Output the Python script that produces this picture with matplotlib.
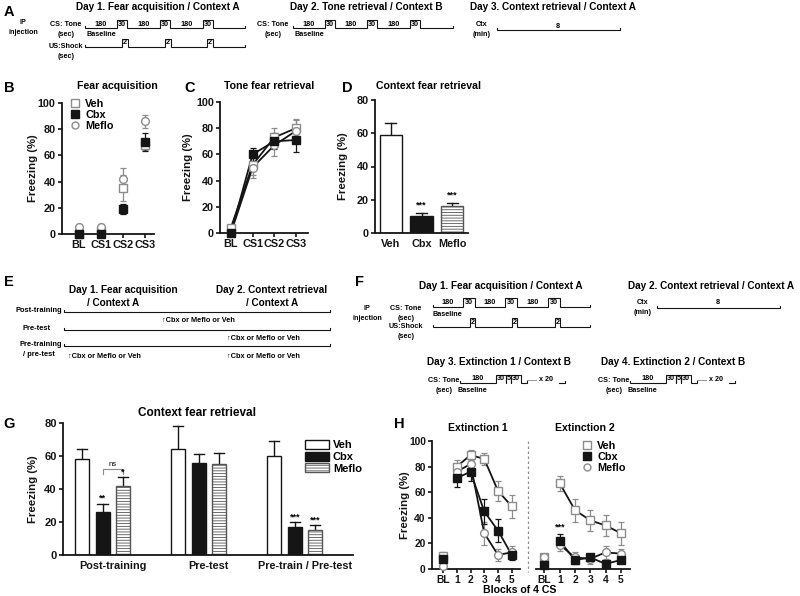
import matplotlib.pyplot as plt
import numpy as np
from matplotlib.lines import Line2D
from matplotlib.patches import Patch

INK = "#151515"
GRAY = "#8c8c8c"
W, H = 800, 596
SMALL = 5.2

# ---- data ----
ACQ_LABELS = ["BL", "CS1", "CS2", "CS3"]
ACQ_VEH = [0, 2, 35, 68]
ACQ_VEH_ERR = [1, 2, 10, 4]
ACQ_CBX = [0, 0, 19, 70]
ACQ_CBX_ERR = [0.5, 0.5, 4, 7]
ACQ_MEF = [5, 5, 42, 86]
ACQ_MEF_ERR = [1, 3, 8, 5]

TONE_LABELS = ["BL", "CS1", "CS2", "CS3"]
TONE_VEH = [4, 52, 73, 80]
TONE_VEH_ERR = [2, 8, 7, 7]
TONE_CBX = [0, 60, 70, 71]
TONE_CBX_ERR = [0.5, 5, 6, 9]
TONE_MEF = [0, 50, 67, 78]
TONE_MEF_ERR = [0.5, 8, 8, 8]

GROUPS = ["Veh", "Cbx", "Meflo"]
CTX_MEAN = [59, 10, 16]
CTX_ERR = [7, 2, 2]
CTX_SIG = ["", "***", "***"]

COND_LABELS = ["Post-training", "Pre-test", "Pre-train / Pre-test"]
COND_VEH = [58, 64, 60]
COND_VEH_ERR = [6, 14, 9]
COND_CBX = [26, 56, 17]
COND_CBX_ERR = [5, 5, 3]
COND_MEF = [42, 55, 15]
COND_MEF_ERR = [5, 7, 3]
COND_CBX_SIG = ["**", "", "***"]
COND_MEF_SIG = ["*", "", "***"]

EXT_LABELS = ["BL", "1", "2", "3", "4", "5"]
EXT1_VEH = [10, 80, 89, 86, 61, 49]
EXT1_VEH_ERR = [3, 5, 4, 5, 8, 9]
EXT1_CBX = [8, 71, 76, 45, 30, 11]
EXT1_CBX_ERR = [2, 7, 7, 10, 9, 4]
EXT1_MEF = [2, 76, 82, 28, 11, 13]
EXT1_MEF_ERR = [1, 6, 8, 9, 5, 5]
EXT2_VEH = [9, 67, 46, 38, 34, 28]
EXT2_VEH_ERR = [3, 6, 9, 8, 8, 9]
EXT2_CBX = [3, 22, 7, 9, 4, 7]
EXT2_CBX_ERR = [1, 5, 3, 3, 2, 2]
EXT2_MEF = [9, 19, 9, 8, 13, 12]
EXT2_MEF_ERR = [2, 5, 4, 4, 5, 4]

STYLE = {
    "Veh": dict(marker="s", mfc="white", mec=GRAY, ecolor=GRAY, ms=6.2),
    "Cbx": dict(marker="s", mfc=INK, mec=INK, ecolor=INK, ms=6.0),
    "Meflo": dict(marker="o", mfc="white", mec=GRAY, ecolor=GRAY, ms=5.6),
}

plt.rcParams.update({
    "font.family": ["Liberation Sans", "DejaVu Sans"],
    "font.weight": "bold",
    "axes.labelweight": "bold",
    "hatch.linewidth": 0.6,
})


def px_axes(fig, left, top, right, bottom):
    return fig.add_axes([left / W, 1 - bottom / H, (right - left) / W, (bottom - top) / H])


def style_axis(ax, size=7.8):
    for side in ("top", "right"):
        ax.spines[side].set_visible(False)
    for side in ("left", "bottom"):
        ax.spines[side].set_linewidth(1.3)
        ax.spines[side].set_color(INK)
    ax.tick_params(direction="out", length=3, width=1.2, labelsize=size, pad=1.5, colors=INK)


def ylabel(ax, fig, text, x_px, size=8.2):
    ax.set_ylabel(text, fontsize=size, color=INK)
    box = ax.get_position()
    ax.yaxis.set_label_coords((x_px / W - box.x0) / box.width, 0.5)


def series(ax, x, y, err, name, line=False, start=0):
    st = STYLE[name]
    ax.errorbar(x, y, yerr=err, fmt="none", ecolor=st["ecolor"], elinewidth=0.9,
                capsize=2, capthick=0.9, clip_on=False, zorder=2)
    if line:
        ax.plot(x[start:], y[start:], color=INK, lw=1.3, zorder=3, clip_on=False)
    ax.plot(x, y, ls="none", marker=st["marker"], ms=st["ms"], mfc=st["mfc"],
            mec=st["mec"], mew=1.0, zorder=4, clip_on=False)


def up_err(ax, x, mean, err, cap=0.18, lw=1.0):
    for xi, m, e in zip(x, mean, err):
        ax.plot([xi, xi], [m, m + e], color=INK, lw=lw, zorder=1)
        ax.plot([xi - cap, xi + cap], [m + e, m + e], color=INK, lw=lw, zorder=1)


def marker_legend(ax, fig, x_px, y_px, size=7.8):
    handles = [Line2D([], [], ls="none", marker=STYLE[g]["marker"], ms=STYLE[g]["ms"] - 0.6,
                      mfc=STYLE[g]["mfc"], mec=STYLE[g]["mec"], mew=1.0) for g in GROUPS]
    ax.legend(handles, GROUPS, loc="upper left", bbox_to_anchor=(x_px / W, 1 - y_px / H),
              bbox_transform=fig.transFigure, frameon=False, fontsize=size,
              handlelength=0.8, handletextpad=0.5, labelspacing=0.1, borderpad=0,
              borderaxespad=0)


def timeline(ov, x0, y, segs, h=8, fs=SMALL):
    xs, ys = [x0, x0], [y - 2.5, y]
    x = x0
    for width, high, label in segs:
        if high:
            xs += [x, x, x + width, x + width]
            ys += [y, y - h, y - h, y]
        else:
            xs += [x + width]
            ys += [y]
        if label:
            ov.text(x + width / 2, y - h / 2, label, ha="center", va="center", fontsize=fs)
        x += width
    xs += [x, x]
    ys += [y, y - 2.5]
    ov.plot(xs, ys, color=INK, lw=0.8, solid_joinstyle="miter")
    return x


def plain_line(ov, x0, x1, y):
    ov.plot([x0, x0, x1, x1], [y - 2.5, y, y, y - 2.5], color=INK, lw=0.8)


def label2(ov, x, y, a, b, fs=SMALL, dy=9):
    ov.text(x, y, a, ha="center", va="center", fontsize=fs)
    ov.text(x, y + dy, b, ha="center", va="center", fontsize=fs)


fig = plt.figure(figsize=(W / 100, H / 100), dpi=100, facecolor="white")
ov = fig.add_axes([0, 0, 1, 1])
ov.set_xlim(0, W)
ov.set_ylim(H, 0)
ov.axis("off")

# panel letters
for letter, (lx, ly) in {"A": (9, 12), "B": (9, 88), "C": (190, 88), "D": (347, 88),
                         "E": (9, 282), "F": (360, 282), "G": (9, 424), "H": (399, 424)}.items():
    ov.text(lx, ly, letter, fontsize=10.5, ha="center", va="center")

# ---- A: protocol ----
ov.text(158, 7, "Day 1. Fear acquisition / Context A", fontsize=7.2, ha="center", va="center")
ov.text(366, 7, "Day 2. Tone retrieval / Context B", fontsize=7.2, ha="center", va="center")
ov.text(553, 7, "Day 3. Context retrieval / Context A", fontsize=7.2, ha="center", va="center")
label2(ov, 23, 23, "IP", "injection", dy=10)
label2(ov, 66, 25, "CS: Tone", "(sec)")
label2(ov, 66, 47, "US:Shock", "(sec)", dy=10)
timeline(ov, 85, 28, [(32, False, "180"), (10, True, "30"), (33, False, "180"), (10, True, "30"),
                      (33, False, "180"), (10, True, "30"), (32, False, "")])
ov.text(101, 35, "Baseline", fontsize=SMALL, ha="center", va="center")
timeline(ov, 85, 47, [(37, False, ""), (6, True, "2"), (37, False, ""), (6, True, "2"),
                      (36, False, ""), (6, True, "2"), (32, False, "")])
label2(ov, 273, 25, "CS: Tone", "(sec)")
timeline(ov, 293, 28, [(32, False, "180"), (10, True, "30"), (32, False, "180"), (10, True, "30"),
                       (33, False, "180"), (10, True, "30"), (33, False, "")])
ov.text(309, 35, "Baseline", fontsize=SMALL, ha="center", va="center")
label2(ov, 482, 25, "Ctx", "(min)")
plain_line(ov, 497, 620, 30)
ov.text(558, 26, "8", fontsize=SMALL, ha="center", va="center")

# ---- B: fear acquisition ----
ax = px_axes(fig, 62, 103, 154, 234)
x = np.arange(len(ACQ_LABELS))
series(ax, x, ACQ_VEH, ACQ_VEH_ERR, "Veh")
series(ax, x, ACQ_MEF, ACQ_MEF_ERR, "Meflo")
series(ax, x, ACQ_CBX, ACQ_CBX_ERR, "Cbx")
ax.set_xlim(-0.75, 3.4)
ax.set_ylim(0, 100)
ax.set_xticks(x, ACQ_LABELS)
ax.set_yticks(range(0, 101, 20))
style_axis(ax)
ylabel(ax, fig, "Freezing (%)", 38)
marker_legend(ax, fig, 71, 99)
ov.text(117, 86, "Fear acquisition", fontsize=7.6, ha="center", va="center")

# ---- C: tone fear retrieval ----
ax = px_axes(fig, 220, 102, 308, 233)
x = np.arange(len(TONE_LABELS))
series(ax, x, TONE_VEH, TONE_VEH_ERR, "Veh", line=True)
series(ax, x, TONE_MEF, TONE_MEF_ERR, "Meflo", line=True)
series(ax, x, TONE_CBX, TONE_CBX_ERR, "Cbx", line=True)
ax.set_xlim(-0.5, 3.55)
ax.set_ylim(0, 100)
ax.set_xticks(x, TONE_LABELS)
ax.set_yticks(range(0, 101, 20))
style_axis(ax)
ylabel(ax, fig, "Freezing (%)", 193)
ov.text(269, 86, "Tone fear retrieval", fontsize=7.6, ha="center", va="center")

# ---- D: context fear retrieval ----
ax = px_axes(fig, 375, 100, 468, 233)
x = np.arange(len(GROUPS))
up_err(ax, x, CTX_MEAN, CTX_ERR)
ax.bar(x, CTX_MEAN, width=0.72, color=["white", INK, "white"],
       edgecolor=[INK, INK, "#555555"], linewidth=1.0, zorder=2)
ax.patches[-1].set_hatch("------")
for xi, m, e, s in zip(x, CTX_MEAN, CTX_ERR, CTX_SIG):
    if s:
        ax.text(xi, m + e + 2, s, ha="center", va="bottom", fontsize=6.5)
ax.set_xlim(-0.52, 2.52)
ax.set_ylim(0, 80)
ax.set_xticks(x, GROUPS)
ax.set_yticks(range(0, 81, 20))
style_axis(ax)
ax.tick_params(axis="x", length=0, pad=4)
ylabel(ax, fig, "Freezing (%)", 348)
ov.text(429, 86, "Context fear retrieval", fontsize=7.6, ha="center", va="center")

# ---- E: injection schedule ----
ov.text(123, 290, "Day 1. Fear acquisition", fontsize=7.2, ha="center", va="center")
ov.text(113, 303, "/ Context A", fontsize=7.2, ha="center", va="center")
ov.text(272, 290, "Day 2. Context retrieval", fontsize=7.2, ha="center", va="center")
ov.text(272, 303, "/ Context A", fontsize=7.2, ha="center", va="center")
ov.text(62, 310, "Post-training", fontsize=5.4, ha="right", va="center")
ov.text(51, 328, "Pre-test", fontsize=5.4, ha="right", va="center")
ov.text(62, 345, "Pre-training", fontsize=5.4, ha="right", va="center")
ov.text(55, 355, "/ pre-test", fontsize=5.4, ha="right", va="center")
for yy in (312, 330, 346):
    plain_line(ov, 64, 330, yy)
for tx, ty in ((162, 320), (227, 338), (68, 356), (227, 356)):
    ov.text(tx, ty, "\u2191Cbx or Meflo or Veh", fontsize=5.3, ha="left", va="center")

# ---- F: extinction protocol ----
ov.text(501, 286, "Day 1. Fear acquisition / Context A", fontsize=7.2, ha="center", va="center")
ov.text(711, 286, "Day 2. Context retrieval / Context A", fontsize=7.2, ha="center", va="center")
label2(ov, 367, 308, "IP", "injection", dy=10)
label2(ov, 406, 308, "CS: Tone", "(sec)", dy=10)
label2(ov, 406, 327, "US:Shock", "(sec)", dy=10)
timeline(ov, 433, 307, [(30, False, "180"), (12, True, "30"), (30, False, "180"), (12, True, "30"),
                        (31, False, "180"), (12, True, "30"), (30, False, "")], h=9)
ov.text(447, 314, "Baseline", fontsize=SMALL, ha="center", va="center")
timeline(ov, 433, 327, [(37, False, ""), (5, True, "2"), (37, False, ""), (5, True, "2"),
                        (38, False, ""), (5, True, "2"), (30, False, "")], h=9)
label2(ov, 643, 303, "Ctx", "(min)")
plain_line(ov, 657, 780, 308)
ov.text(718, 303, "8", fontsize=SMALL, ha="center", va="center")
ov.text(499, 362, "Day 3. Extinction 1 / Context B", fontsize=7.2, ha="center", va="center")
ov.text(673, 362, "Day 4. Extinction 2 / Context B", fontsize=7.2, ha="center", va="center")
for x0, lx in ((460, 444), (630, 614)):
    label2(ov, lx, 381, "CS: Tone", "(sec)")
    end = timeline(ov, x0, 383, [(36, False, "180"), (10, True, "30"), (5, True, "5"),
                                 (10, True, "30"), (6, False, "")], h=8)
    ov.text(end, 383, "..... x 20", fontsize=SMALL, ha="left", va="bottom")
    ov.plot([end + 32, end + 38, end + 38], [383, 383, 380.5], color=INK, lw=0.8)
    ov.text(x0 + 12, 390, "Baseline", fontsize=SMALL, ha="center", va="center")

# ---- G: context retrieval by injection time ----
ax = px_axes(fig, 63, 423, 353, 555)
gpos = np.arange(len(COND_LABELS)) * 4.68
bw = 0.68
colors = ["white", INK, "white"]
edges = [INK, INK, "#555555"]
for i, (vals, errs) in enumerate(((COND_VEH, COND_VEH_ERR), (COND_CBX, COND_CBX_ERR),
                                  (COND_MEF, COND_MEF_ERR))):
    up_err(ax, gpos + i, vals, errs, cap=0.25)
    bars = ax.bar(gpos + i, vals, width=bw, color=colors[i], edgecolor=edges[i],
                  linewidth=1.0, zorder=2, label=GROUPS[i])
    if i == 2:
        for b in bars:
            b.set_hatch("------")
for sigs, vals, errs, off in ((COND_CBX_SIG, COND_CBX, COND_CBX_ERR, 1),
                              (COND_MEF_SIG, COND_MEF, COND_MEF_ERR, 2)):
    for g, s in enumerate(sigs):
        if s:
            ax.text(gpos[g] + off, vals[g] + errs[g] + 0.5, s, ha="center", va="bottom", fontsize=6.5)
top = max(COND_CBX[0] + COND_CBX_ERR[0], COND_MEF[0] + COND_MEF_ERR[0]) + 5
ax.plot([gpos[0] + 1, gpos[0] + 1, gpos[0] + 2, gpos[0] + 2], [top - 3, top, top, top - 3],
        color=GRAY, lw=0.8)
ax.text(gpos[0] + 1.5, top + 0.8, "ns", ha="center", va="bottom", fontsize=5.5, fontweight="normal")
ax.set_xlim(-0.93, 13.2)
ax.set_ylim(0, 80)
ax.set_xticks(gpos + 1.5, COND_LABELS)
ax.set_yticks(range(0, 81, 20))
style_axis(ax, size=8)
ax.tick_params(axis="x", length=0, pad=4, labelsize=7.8)
ylabel(ax, fig, "Freezing (%)", 38)
ax.legend(handles=[Patch(facecolor=colors[i], edgecolor=edges[i],
                         hatch="------" if i == 2 else None) for i in range(3)],
          labels=GROUPS, loc="upper left", bbox_to_anchor=(305 / W, 1 - 440 / H),
          bbox_transform=fig.transFigure, frameon=False, fontsize=8, handlelength=2.2,
          handleheight=0.9, handletextpad=0.3, labelspacing=0.1, borderpad=0, borderaxespad=0)
ov.text(197, 413, "Context fear retrieval", fontsize=8.5, ha="center", va="center")

# ---- H: extinction ----
xe = np.arange(len(EXT_LABELS))
axl = px_axes(fig, 432, 441, 520, 569)
axr = px_axes(fig, 536, 441, 630, 569)
for axh, data in ((axl, (EXT1_VEH, EXT1_VEH_ERR, EXT1_CBX, EXT1_CBX_ERR, EXT1_MEF, EXT1_MEF_ERR)),
                  (axr, (EXT2_VEH, EXT2_VEH_ERR, EXT2_CBX, EXT2_CBX_ERR, EXT2_MEF, EXT2_MEF_ERR))):
    veh, veh_e, cbx, cbx_e, mef, mef_e = data
    series(axh, xe, veh, veh_e, "Veh", line=True, start=1)
    series(axh, xe, mef, mef_e, "Meflo", line=True, start=1)
    series(axh, xe, cbx, cbx_e, "Cbx", line=True, start=1)
    axh.set_ylim(0, 100)
    axh.set_xticks(xe, EXT_LABELS)
    style_axis(axh, size=7.4)
axl.set_xlim(-0.8, 5.6)
axl.set_yticks(range(0, 101, 20))
ylabel(axl, fig, "Freezing (%)", 410)
axr.set_xlim(-0.55, 5.6)
axr.spines["left"].set_visible(False)
axr.set_yticks([])
axr.text(1, EXT2_CBX[1] + EXT2_CBX_ERR[1] + 2, "***", ha="center", va="bottom", fontsize=6.5)
marker_legend(axr, fig, 583, 441)
ov.plot([528, 528], [441, 572], color=GRAY, lw=0.9, ls=(0, (2, 2)))
ov.text(478, 428, "Extinction 1", fontsize=7.6, ha="center", va="center")
ov.text(585, 428, "Extinction 2", fontsize=7.6, ha="center", va="center")
ov.text(520, 590, "Blocks of 4 CS", fontsize=7.6, ha="center", va="center")

fig.savefig("out.png", dpi=100, facecolor="white")
